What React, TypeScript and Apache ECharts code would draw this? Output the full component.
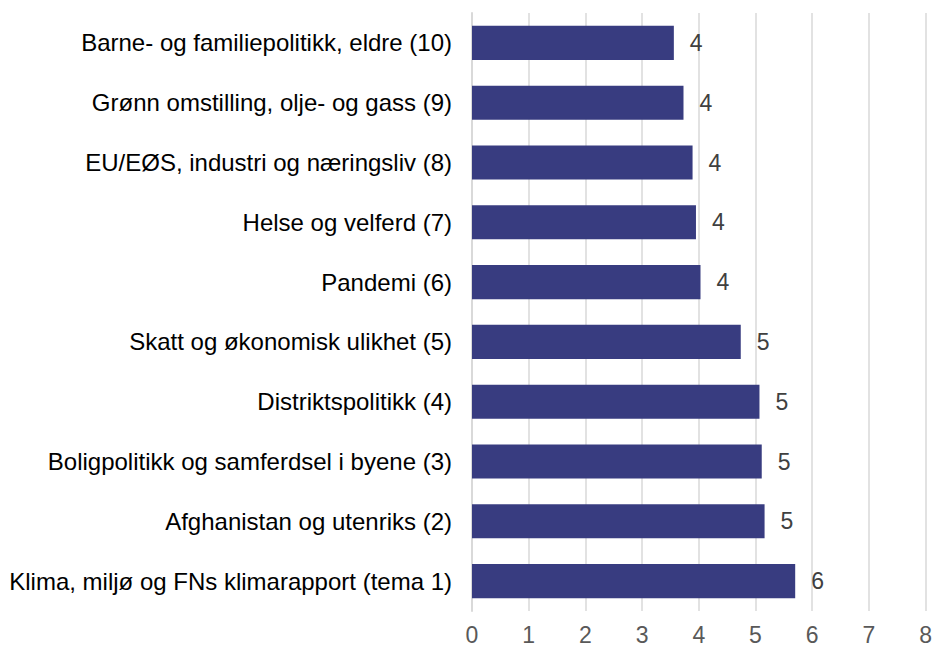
import React, { useEffect, useRef } from "react";
import * as echarts from "echarts";

const categories = [
  "Barne- og familiepolitikk, eldre (10)",
  "Grønn omstilling, olje- og gass (9)",
  "EU/EØS, industri og næringsliv (8)",
  "Helse og velferd (7)",
  "Pandemi (6)",
  "Skatt og økonomisk ulikhet (5)",
  "Distriktspolitikk (4)",
  "Boligpolitikk og samferdsel i byene (3)",
  "Afghanistan og utenriks (2)",
  "Klima, miljø og FNs klimarapport (tema 1)",
];
const values = [3.56, 3.73, 3.89, 3.95, 4.03, 4.74, 5.07, 5.11, 5.16, 5.7];
const xTicks = [0, 1, 2, 3, 4, 5, 6, 7, 8];

export default function App() {
  const ref = useRef<HTMLDivElement>(null);
  useEffect(() => {
    const chart = echarts.init(ref.current!, null, { renderer: "svg" });
    const font = "Liberation Sans, Arial, sans-serif";
    chart.setOption({
      animation: false,
      grid: { left: 472, right: 7, top: 13, bottom: 33, containLabel: false },
      xAxis: {
        type: "value",
        min: xTicks[0],
        max: xTicks[xTicks.length - 1],
        interval: 1,
        axisLine: { show: false },
        axisTick: { show: false },
        splitLine: { show: true, lineStyle: { color: "#d9d9d9", width: 1.5 } },
        axisLabel: { color: "#595959", fontSize: 23, fontFamily: font, margin: 12 },
      },
      yAxis: {
        type: "category",
        data: categories,
        inverse: true,
        axisLine: { show: true, lineStyle: { color: "#d9d9d9", width: 2 } },
        axisTick: { show: false },
        axisLabel: { color: "#000", fontSize: 24, fontFamily: font, margin: 20 },
      },
      series: [
        {
          type: "bar",
          data: values,
          barCategoryGap: "43%",
          itemStyle: { color: "#383C80" },
          label: {
            show: true,
            position: "right",
            distance: 16,
            color: "#404040",
            fontSize: 23,
            fontFamily: font,
            formatter: (p: any) => String(Math.round(p.value)),
          },
        },
      ],
    });
    return () => chart.dispose();
  }, []);
  return <div ref={ref} style={{ width: 935, height: 646, position: "absolute", left: 0, top: 0 }} />;
}
